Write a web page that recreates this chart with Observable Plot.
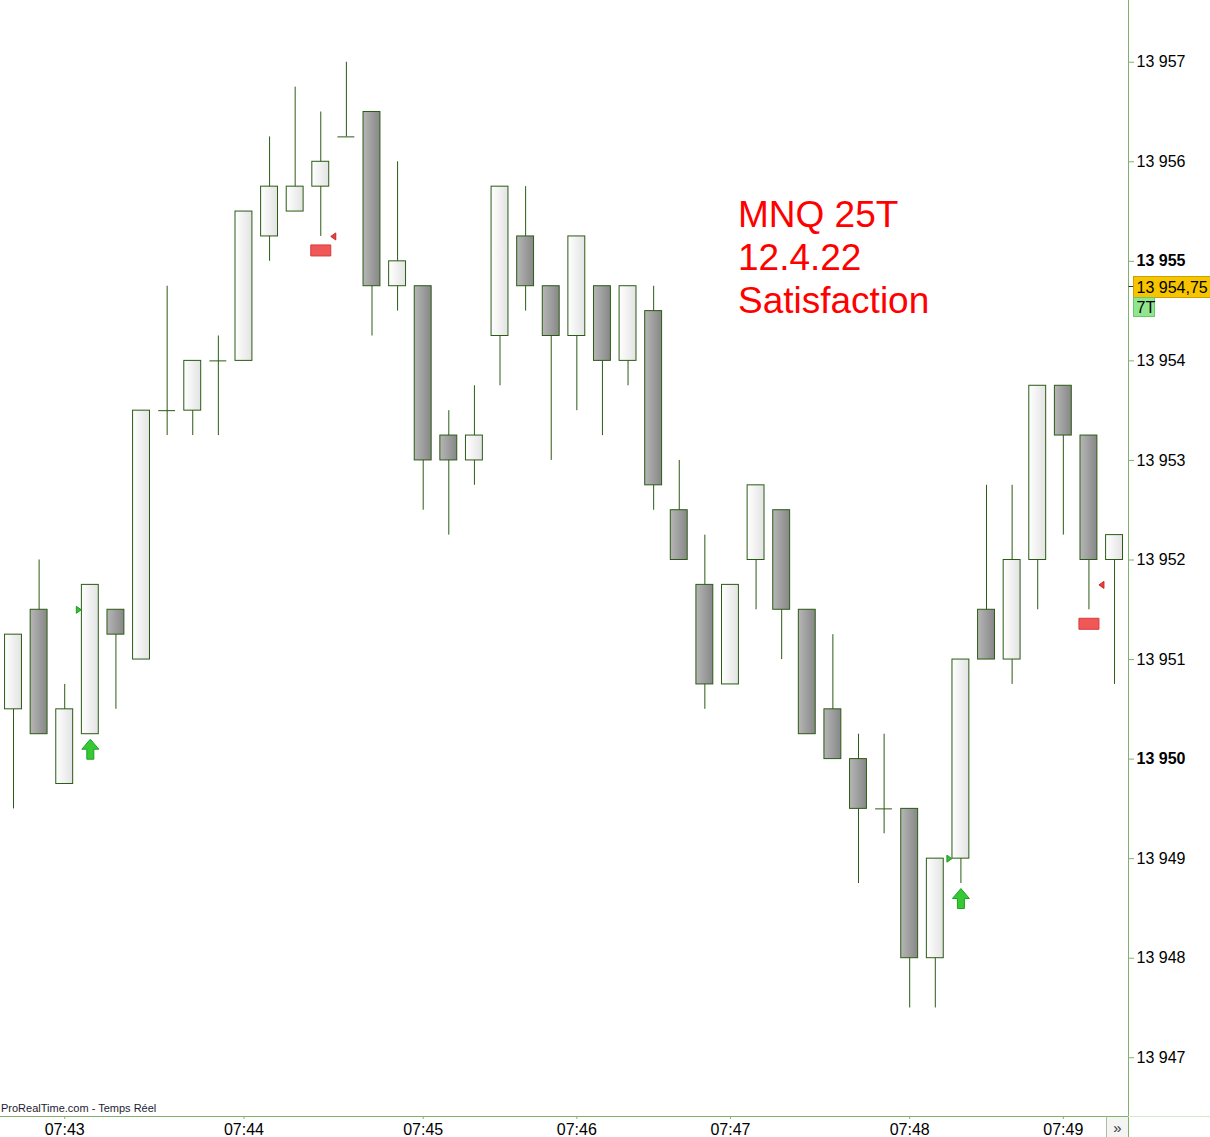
<!DOCTYPE html>
<html>
<head>
<meta charset="utf-8">
<script src="https://cdn.jsdelivr.net/npm/d3@7"></script>
<script src="https://cdn.jsdelivr.net/npm/@observablehq/plot@0.6"></script>
<style>
  html, body { margin: 0; padding: 0; background: #ffffff; }
  #chart { position: relative; width: 1210px; height: 1137px; overflow: hidden;
           font-family: Arial, "Liberation Sans", sans-serif; }
  #title { position: absolute; left: 738px; top: 193px; color: #ff0000;
           font-size: 37px; line-height: 43px; white-space: pre; }
  #source { position: absolute; left: 1px; top: 1102px; font-size: 11px; color: #1c1c30; }
</style>
</head>
<body>
<div id="chart">
  <div id="title">MNQ 25T
12.4.22
Satisfaction</div>
  <div id="source">ProRealTime.com - Temps Réel</div>
</div>
<script>
// ---- data ----
const opens  = [13950.5, 13951.5, 13949.75, 13950.25, 13951.5, 13951, 13953.5, 13953.5, 13954, 13954,
                13955.25, 13955.5, 13955.75, 13956.25, 13956.5, 13954.75, 13954.75, 13953.25, 13953, 13954.25,
                13955.25, 13954.75, 13954.25, 13954.75, 13954, 13954.5, 13952.5, 13951.75, 13950.75, 13952,
                13952.5, 13951.5, 13950.5, 13950, 13949.5, 13949.5, 13948, 13949, 13951.5, 13951,
                13952, 13953.75, 13953.25, 13952];
const highs  = [13951.25, 13952, 13950.75, 13951.75, 13951.5, 13953.5, 13954.75, 13954, 13954.25, 13955.5,
                13956.25, 13956.75, 13956.5, 13957, 13956.5, 13956, 13954.75, 13953.5, 13953.75, 13955.75,
                13955.75, 13954.75, 13955.25, 13954.75, 13954.75, 13954.75, 13953, 13952.25, 13951.75, 13952.75,
                13952.5, 13951.5, 13951.25, 13950.25, 13950.25, 13949.5, 13949, 13951, 13952.75, 13952.75,
                13953.75, 13953.75, 13953.25, 13952.25];
const lows   = [13949.5, 13950.25, 13949.75, 13950.25, 13950.5, 13951, 13953.25, 13953.25, 13953.25, 13954,
                13955, 13955.5, 13955.25, 13956.25, 13954.25, 13954.5, 13952.5, 13952.25, 13952.75, 13953.75,
                13954.5, 13953, 13953.5, 13953.25, 13953.75, 13952.5, 13952, 13950.5, 13950.75, 13951.5,
                13951, 13950.25, 13950, 13948.75, 13949.25, 13947.5, 13947.5, 13948.75, 13951, 13950.75,
                13951.5, 13952.25, 13951.5, 13950.75];
const closes = [13951.25, 13950.25, 13950.5, 13951.75, 13951.25, 13953.5, 13953.5, 13954, 13954, 13955.5,
                13955.75, 13955.75, 13956, 13956.25, 13954.75, 13955, 13953, 13953, 13953.25, 13955.75,
                13954.75, 13954.25, 13955.25, 13954, 13954.75, 13952.75, 13952, 13950.75, 13951.75, 13952.75,
                13951.5, 13950.25, 13950, 13949.5, 13949.5, 13948, 13949, 13951, 13951, 13952,
                13953.75, 13953.25, 13952, 13952.25];

const timeTickIndex  = [2, 9, 16, 22, 28, 35, 41];
const timeTickLabels = ["07:43", "07:44", "07:45", "07:46", "07:47", "07:48", "07:49"];
const priceTicks     = [13947, 13948, 13949, 13950, 13951, 13952, 13953, 13954, 13955, 13956, 13957];
const boldPriceTicks = [13950, 13955];

const buyIndex   = [3, 37];
const buyLevels  = [13951.5, 13949];
const sellIndex  = [12, 42];
const sellLevels = [13955.25, 13951.75];

const lastPrice = 13954.75;
const lastPriceLabel = "13 954,75";
const tickCountLabel = "7T";

// ---- derived table ----
const candles = opens.map((o, i) => ({ i, o, h: highs[i], l: lows[i], c: closes[i] }));
const ups   = candles.filter(d => d.c > d.o);
const downs = candles.filter(d => d.c < d.o);
const dojis = candles.filter(d => d.c === d.o);
const buys  = buyIndex.map((i, k) => ({ i, level: buyLevels[k], low: lows[i] }));
const sells = sellIndex.map((i, k) => ({ i, level: sellLevels[k], low: lows[i] }));

const hw = 0.33;
const green = "#2b5b14";
const axisGreen = "#82b06e";
const fmt = d => d3.format(",")(d).replace(/,/g, " ");

const arrowUp = { draw(ctx) {
  ctx.moveTo(0, -10); ctx.lineTo(8.5, 0); ctx.lineTo(3.5, 0); ctx.lineTo(3.5, 10);
  ctx.lineTo(-3.5, 10); ctx.lineTo(-3.5, 0); ctx.lineTo(-8.5, 0); ctx.closePath();
}};
const triRight = { draw(ctx) { ctx.moveTo(-2.5, -3.5); ctx.lineTo(2.5, 0); ctx.lineTo(-2.5, 3.5); ctx.closePath(); } };
const triLeft  = { draw(ctx) { ctx.moveTo(2.5, -3.5); ctx.lineTo(-2.5, 0); ctx.lineTo(2.5, 3.5); ctx.closePath(); } };
const sellBox  = { draw(ctx) { ctx.moveTo(-10, -5.5); ctx.lineTo(10, -5.5); ctx.lineTo(10, 5.5); ctx.lineTo(-10, 5.5); ctx.closePath(); } };

const xDomain = [-0.508, 43.545];
const yDomain = [13946.41, 13957.62];

const plot = Plot.plot({
  width: 1210,
  height: 1137,
  marginLeft: 0,
  marginRight: 82,
  marginTop: 0,
  marginBottom: 21,
  style: { fontFamily: "Arial, 'Liberation Sans', sans-serif", fontSize: "16px", background: "transparent", color: "#000", overflow: "visible" },
  x: { type: "linear", domain: xDomain, axis: null, label: null },
  y: { type: "linear", domain: yDomain, axis: null, label: null },
  marks: [
    // wicks
    Plot.ruleX(candles, { x: "i", y1: "l", y2: "h", stroke: green, strokeWidth: 1 }),
    // bodies
    Plot.rect(ups,   { x1: d => d.i - hw, x2: d => d.i + hw, y1: "o", y2: "c", fill: "url(#gUp)", stroke: green, strokeWidth: 1 }),
    Plot.rect(downs, { x1: d => d.i - hw, x2: d => d.i + hw, y1: "o", y2: "c", fill: "url(#gDn)", stroke: green, strokeWidth: 1 }),
    Plot.ruleY(dojis, { y: "o", x1: d => d.i - hw, x2: d => d.i + hw, stroke: green, strokeWidth: 1 }),
    // signals
    Plot.dot(buys,  { x: "i", y: "low", symbol: arrowUp, r: 10, dy: 15, fill: "#36c936", stroke: "#22a022", strokeWidth: 1 }),
    Plot.dot(buys,  { x: "i", y: "level", symbol: triRight, r: 4, dx: -11.5, fill: "#33c233", stroke: "#1f9a1f", strokeWidth: 1 }),
    Plot.dot(sells, { x: "i", y: "low", symbol: sellBox, r: 10, dy: 14, fill: "#f05858", stroke: "#d63a3a", strokeWidth: 1 }),
    Plot.dot(sells, { x: "i", y: "level", symbol: triLeft, r: 4, dx: 12.5, fill: "#e84040", stroke: "#c82828", strokeWidth: 1 }),
    // frame lines
    Plot.ruleX([xDomain[1]], { stroke: axisGreen, strokeWidth: 1 }),
    Plot.ruleY([yDomain[0]], { x1: xDomain[0], x2: xDomain[1], stroke: axisGreen, strokeWidth: 1 }),
    // axes
    Plot.axisY(priceTicks.filter(t => !boldPriceTicks.includes(t)), { anchor: "right", label: null, tickSize: 5, tickPadding: 3, tickFormat: fmt, stroke: axisGreen, fontSize: 16 }),
    Plot.axisY(boldPriceTicks, { anchor: "right", label: null, tickSize: 5, tickPadding: 3, tickFormat: fmt, stroke: axisGreen, fontSize: 16, fontWeight: "bold" }),
    Plot.axisX(timeTickIndex, { anchor: "bottom", label: null, tickSize: 3, tickPadding: 4, tickFormat: i => timeTickLabels[timeTickIndex.indexOf(i)], stroke: axisGreen, fontSize: 16 })
  ]
});

// gradients for candle bodies
const svg = d3.select(plot);
const defs = svg.insert("defs", ":first-child");
const gUp = defs.append("linearGradient").attr("id", "gUp").attr("x1", 0).attr("x2", 1).attr("y1", 0).attr("y2", 0);
gUp.append("stop").attr("offset", 0).attr("stop-color", "#ffffff");
gUp.append("stop").attr("offset", 1).attr("stop-color", "#e3e3e3");
const gDn = defs.append("linearGradient").attr("id", "gDn").attr("x1", 0).attr("x2", 1).attr("y1", 0).attr("y2", 0);
gDn.append("stop").attr("offset", 0).attr("stop-color", "#b6b6b6");
gDn.append("stop").attr("offset", 1).attr("stop-color", "#878787");

// last price label and tick-count label, positioned with the plot's scales
const xs = plot.scale("x"), ys = plot.scale("y");
const xr = Math.round(xs.apply(xDomain[1])) + 0.5;
const yb = Math.round(ys.apply(yDomain[0])) + 0.5;
const yl = ys.apply(lastPrice);
const g = svg.append("g").attr("text-anchor", "start");
g.append("line").attr("x1", xr).attr("x2", xr).attr("y1", yb).attr("y2", 1137).attr("stroke", axisGreen);
g.append("line").attr("x1", xr + 1).attr("x2", 1210).attr("y1", yb).attr("y2", yb).attr("stroke", "#d8e6d0");
g.append("line").attr("x1", xr - 22).attr("x2", xr - 22).attr("y1", yb).attr("y2", 1137).attr("stroke", "#a9c29c");
g.append("rect").attr("x", xr - 21.5).attr("y", yb + 0.5).attr("width", 21).attr("height", 21).attr("fill", "#f4f4f4");
g.append("text").attr("x", xr - 11).attr("y", yb + 16).attr("text-anchor", "middle").attr("font-size", 15).attr("fill", "#333").text("»");
g.append("line").attr("x1", xr).attr("x2", xr + 5).attr("y1", Math.round(yl) + 0.5).attr("y2", Math.round(yl) + 0.5).attr("stroke", "#333");
g.append("rect").attr("x", xr + 5).attr("y", Math.round(yl) - 10 + 0.5).attr("width", 80).attr("height", 21)
  .attr("fill", "#f6c500").attr("stroke", "#c9a200");
g.append("text").attr("x", xr + 8).attr("y", Math.round(yl) + 6.5).attr("text-anchor", "start").attr("font-size", 16).attr("fill", "#000").text(lastPriceLabel);
g.append("rect").attr("x", xr + 5).attr("y", Math.round(yl) + 11.5).attr("width", 21).attr("height", 19)
  .attr("fill", "#8fe68f").attr("stroke", "#6cc66c");
g.append("text").attr("x", xr + 8).attr("y", Math.round(yl) + 27).attr("text-anchor", "start").attr("font-size", 16).attr("fill", "#000").text(tickCountLabel);

const chart = document.getElementById("chart");
plot.style.position = "absolute";
plot.style.left = "0px";
plot.style.top = "0px";
chart.insertBefore(plot, chart.firstChild);
</script>
</body>
</html>
